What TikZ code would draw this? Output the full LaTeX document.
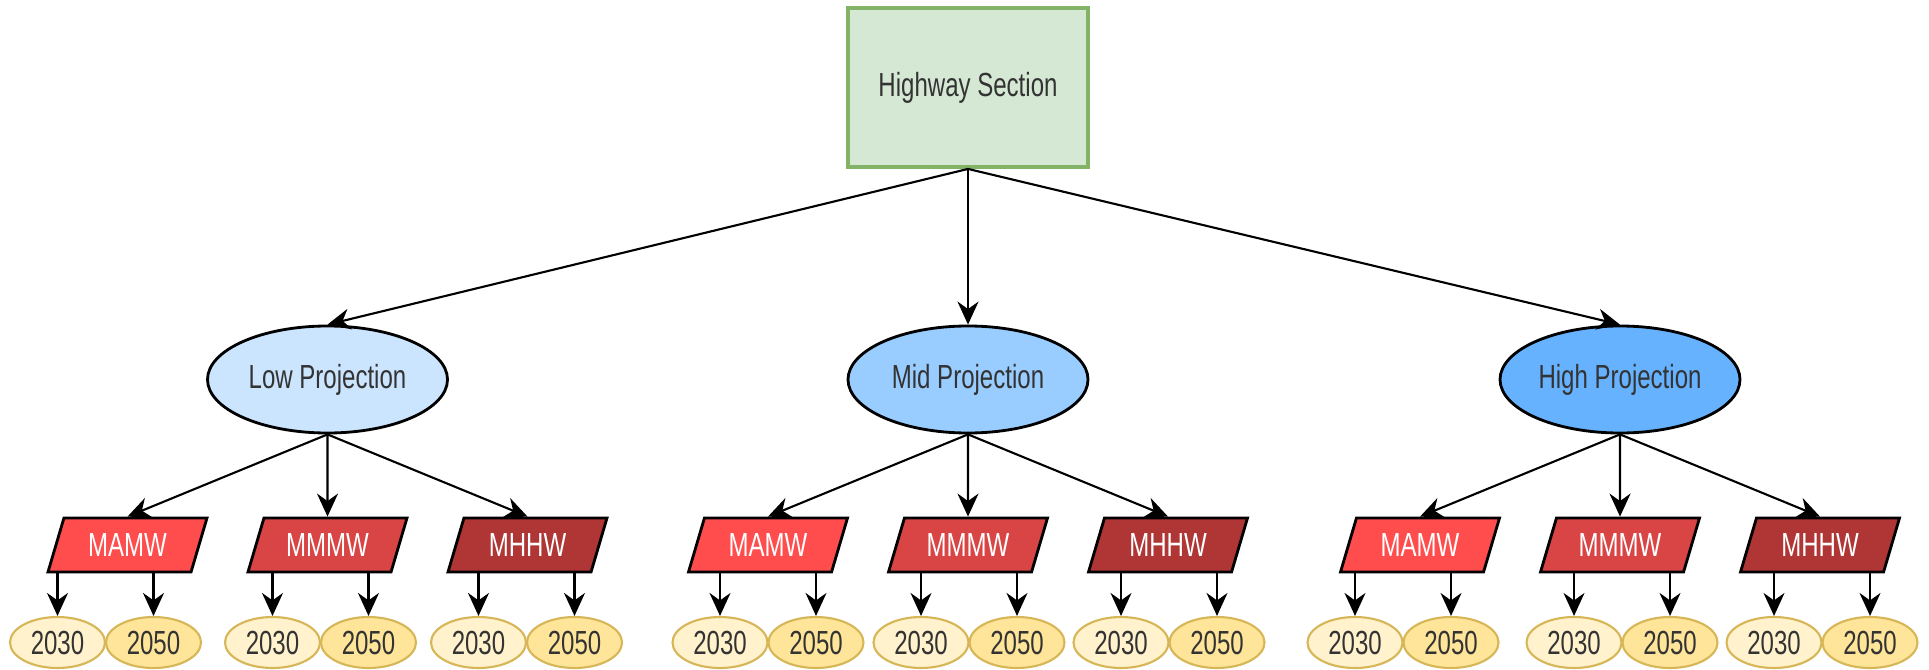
\documentclass[tikz,border=0pt]{standalone}
\usepackage{fontspec}
\setmainfont[FakeStretch=0.72]{Liberation Sans}
\usetikzlibrary{shapes.geometric,arrows.meta}

\definecolor{vertfond}{HTML}{D5E8D4}
\definecolor{vertbord}{HTML}{82B366}
\definecolor{bleubas}{HTML}{CCE5FF}
\definecolor{bleumoyen}{HTML}{99CCFF}
\definecolor{bleuhaut}{HTML}{66B2FF}
\definecolor{rougeA}{HTML}{FF4C4C}
\definecolor{rougeM}{HTML}{D94444}
\definecolor{rougeH}{HTML}{B03535}
\definecolor{jauneclair}{HTML}{FFF2CC}
\definecolor{jaunefonce}{HTML}{FFE599}
\definecolor{jaunebord}{HTML}{D6B656}
\definecolor{texte}{HTML}{333333}

\begin{document}
\begin{tikzpicture}[
racine/.style={rectangle, draw=vertbord, fill=vertfond, line width=1.1pt, minimum width=2.4cm, minimum height=1.59cm},
projection/.style={ellipse, draw=black, fill=#1, line width=0.8pt, minimum width=2.4cm, minimum height=1.07cm, inner sep=0pt},
scenario/.style={trapezium, trapezium left angle=62, trapezium right angle=118, trapezium stretches body, draw=black, fill=#1, line width=0.8pt, minimum width=1.59cm, minimum height=0.54cm, inner sep=1pt, text=white},
annee/.style={ellipse, draw=jaunebord, fill=#1, line width=0.6pt, minimum width=0.95cm, minimum height=0.51cm, inner sep=0pt},
fleche/.style={-{Stealth[length=2.3mm,width=2.1mm]}, line width=0.6pt},
every node/.style={font=\fontsize{9.5}{11}\selectfont, text=texte},
]
    % Longueurs et espacement
    \def\descenteA{2.92cm}
    \def\descenteB{1.655cm}
    \def\descenteC{0.975cm}
    \def\espacement{2cm}
    \def\paire{0.96cm}

    \useasboundingbox (0,0) rectangle (19.29,-6.70);

    % Racine et projections
    \node [racine] (highway) at (9.68,-0.875) {Highway Section};
    \node [projection=bleumoyen, below of=highway, node distance=\descenteA] (mid) {Mid Projection};
    \node [projection=bleubas, left of=mid, node distance=6.405cm] (low) {Low Projection};
    \node [projection=bleuhaut, right of=mid, node distance=6.52cm] (high) {High Projection};

    % Scénarios
    \node [scenario=rougeM, below of=low, node distance=\descenteB] (mmmwlow) {MMMW};
    \node [scenario=rougeA, left of=mmmwlow, node distance=\espacement] (mamwlow) {MAMW};
    \node [scenario=rougeH, right of=mmmwlow, node distance=\espacement] (mhhwlow) {MHHW};
    \node [scenario=rougeM, below of=mid, node distance=\descenteB] (mmmwmid) {MMMW};
    \node [scenario=rougeA, left of=mmmwmid, node distance=\espacement] (mamwmid) {MAMW};
    \node [scenario=rougeH, right of=mmmwmid, node distance=\espacement] (mhhwmid) {MHHW};
    \node [scenario=rougeM, below of=high, node distance=\descenteB] (mmmwhigh) {MMMW};
    \node [scenario=rougeA, left of=mmmwhigh, node distance=\espacement] (mamwhigh) {MAMW};
    \node [scenario=rougeH, right of=mmmwhigh, node distance=\espacement] (mhhwhigh) {MHHW};

    % Années
    \node [annee=jauneclair, below of=mamwlow, node distance=\descenteC, xshift=-7.0mm] (alow1) {2030};
    \node [annee=jaunefonce, right of=alow1, node distance=\paire] (alow2) {2050};
    \node [annee=jauneclair, below of=mmmwlow, node distance=\descenteC, xshift=-5.5mm] (mlow1) {2030};
    \node [annee=jaunefonce, right of=mlow1, node distance=\paire] (mlow2) {2050};
    \node [annee=jauneclair, below of=mhhwlow, node distance=\descenteC, xshift=-4.9mm] (hlow1) {2030};
    \node [annee=jaunefonce, right of=hlow1, node distance=\paire] (hlow2) {2050};
    \node [annee=jauneclair, below of=mamwmid, node distance=\descenteC, xshift=-4.8mm] (amid1) {2030};
    \node [annee=jaunefonce, right of=amid1, node distance=\paire] (amid2) {2050};
    \node [annee=jauneclair, below of=mmmwmid, node distance=\descenteC, xshift=-4.7mm] (mmid1) {2030};
    \node [annee=jaunefonce, right of=mmid1, node distance=\paire] (mmid2) {2050};
    \node [annee=jauneclair, below of=mhhwmid, node distance=\descenteC, xshift=-4.7mm] (hmid1) {2030};
    \node [annee=jaunefonce, right of=hmid1, node distance=\paire] (hmid2) {2050};
    \node [annee=jauneclair, below of=mamwhigh, node distance=\descenteC, xshift=-6.5mm] (ahigh1) {2030};
    \node [annee=jaunefonce, right of=ahigh1, node distance=\paire] (ahigh2) {2050};
    \node [annee=jauneclair, below of=mmmwhigh, node distance=\descenteC, xshift=-4.6mm] (mhigh1) {2030};
    \node [annee=jaunefonce, right of=mhigh1, node distance=\paire] (mhigh2) {2050};
    \node [annee=jauneclair, below of=mhhwhigh, node distance=\descenteC, xshift=-4.6mm] (hhigh1) {2030};
    \node [annee=jaunefonce, right of=hhigh1, node distance=\paire] (hhigh2) {2050};

    % Liens
    \draw [fleche] (highway.south) -- (low.north);
    \draw [fleche] (highway.south) -- (mid.north);
    \draw [fleche] (highway.south) -- (high.north);

    \draw [fleche] (low.south) -- (mamwlow.north);
    \draw [fleche] (low.south) -- (mmmwlow.north);
    \draw [fleche] (low.south) -- (mhhwlow.north);
    \draw [fleche] (mid.south) -- (mamwmid.north);
    \draw [fleche] (mid.south) -- (mmmwmid.north);
    \draw [fleche] (mid.south) -- (mhhwmid.north);
    \draw [fleche] (high.south) -- (mamwhigh.north);
    \draw [fleche] (high.south) -- (mmmwhigh.north);
    \draw [fleche] (high.south) -- (mhhwhigh.north);

    \draw [fleche] (alow1.north |- mamwlow.south) -- (alow1.north);
    \draw [fleche] (alow2.north |- mamwlow.south) -- (alow2.north);
    \draw [fleche] (mlow1.north |- mmmwlow.south) -- (mlow1.north);
    \draw [fleche] (mlow2.north |- mmmwlow.south) -- (mlow2.north);
    \draw [fleche] (hlow1.north |- mhhwlow.south) -- (hlow1.north);
    \draw [fleche] (hlow2.north |- mhhwlow.south) -- (hlow2.north);
    \draw [fleche] (amid1.north |- mamwmid.south) -- (amid1.north);
    \draw [fleche] (amid2.north |- mamwmid.south) -- (amid2.north);
    \draw [fleche] (mmid1.north |- mmmwmid.south) -- (mmid1.north);
    \draw [fleche] (mmid2.north |- mmmwmid.south) -- (mmid2.north);
    \draw [fleche] (hmid1.north |- mhhwmid.south) -- (hmid1.north);
    \draw [fleche] (hmid2.north |- mhhwmid.south) -- (hmid2.north);
    \draw [fleche] (ahigh1.north |- mamwhigh.south) -- (ahigh1.north);
    \draw [fleche] (ahigh2.north |- mamwhigh.south) -- (ahigh2.north);
    \draw [fleche] (mhigh1.north |- mmmwhigh.south) -- (mhigh1.north);
    \draw [fleche] (mhigh2.north |- mmmwhigh.south) -- (mhigh2.north);
    \draw [fleche] (hhigh1.north |- mhhwhigh.south) -- (hhigh1.north);
    \draw [fleche] (hhigh2.north |- mhhwhigh.south) -- (hhigh2.north);
\end{tikzpicture}
\end{document}
